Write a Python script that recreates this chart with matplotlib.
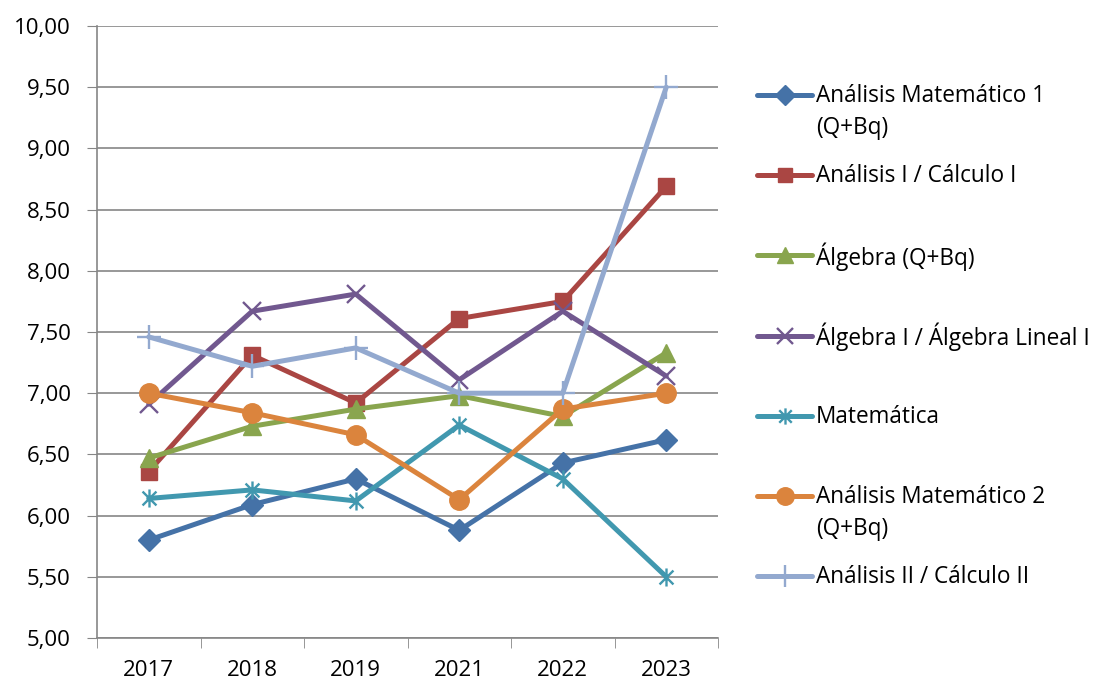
import matplotlib
matplotlib.use("Agg")
import matplotlib.pyplot as plt
from matplotlib.lines import Line2D
from matplotlib.path import Path
import numpy as np

plt.rcParams['font.family'] = ['Open Sans', 'DejaVu Sans']

anios = ["2017", "2018", "2019", "2021", "2022", "2023"]

am1 = [5.80, 6.09, 6.30, 5.88, 6.43, 6.62]
an1 = [6.36, 7.31, 6.92, 7.61, 7.75, 8.69]
alg = [6.47, 6.73, 6.87, 6.98, 6.81, 7.33]
alg1 = [6.91, 7.67, 7.81, 7.11, 7.67, 7.14]
mate = [6.14, 6.21, 6.12, 6.74, 6.30, 5.50]
am2 = [7.00, 6.84, 6.66, 6.13, 6.87, 7.00]
an2 = [7.46, 7.22, 7.37, 7.00, 7.00, 9.50]

nombres = ["Análisis Matemático 1\n(Q+Bq)", "Análisis I / Cálculo I", "Álgebra (Q+Bq)",
           "Álgebra I / Álgebra Lineal I", "Matemática", "Análisis Matemático 2\n(Q+Bq)",
           "Análisis II / Cálculo II"]

# marcador asterisco estilo excel
asterisco = Path([(-1, -1), (1, 1), (-1, 1), (1, -1), (0, -1.3), (0, 1.3)],
                 [Path.MOVETO, Path.LINETO, Path.MOVETO, Path.LINETO, Path.MOVETO, Path.LINETO])

estilos = [
    dict(color="#4572A7", marker="D", ms=11),
    dict(color="#AA4643", marker="s", ms=11),
    dict(color="#89A54E", marker="^", ms=13),
    dict(color="#71588F", marker="x", ms=13, mew=1.7),
    dict(color="#4198AF", marker=asterisco, ms=13, mew=1.7),
    dict(color="#DB843D", marker="o", ms=14),
    dict(color="#93A9CF", marker="+", ms=17, mew=1.7),
]
series = [am1, an1, alg, alg1, mate, am2, an2]

fig = plt.figure(figsize=(11.02, 6.82), dpi=100)
ax = fig.add_axes([97/1102, 1-638/682, 621/1102, 612/682])

x = np.arange(len(anios))
for vals, est in zip(series, estilos):
    ax.plot(x, vals, lw=3.6, solid_capstyle="round", solid_joinstyle="round", **est)

ax.set_xlim(-0.5, len(anios)-0.5)
ax.set_ylim(5, 10)
ax.set_yticks(np.arange(5, 10.01, 0.5))
ax.set_yticklabels([f"{v:.2f}".replace(".", ",") for v in np.arange(5, 10.01, 0.5)])
ax.set_xticks(x)
ax.set_xticklabels(anios)
ax.set_xticks(np.arange(-0.5, len(anios)), minor=True)
ax.tick_params(axis="x", which="major", length=0, pad=16, labelsize=16)
ax.tick_params(axis="x", which="minor", length=7, color="#868686", direction="out")
ax.tick_params(axis="y", length=7, color="#868686", pad=12, labelsize=16)
ax.grid(axis="y", color="#868686", lw=1.2)
ax.set_axisbelow(True)
for s in ["top", "right"]:
    ax.spines[s].set_visible(False)
for s in ["left", "bottom"]:
    ax.spines[s].set_color("#868686")
    ax.spines[s].set_linewidth(1.2)

# leyenda manual
for i, (nom, est) in enumerate(zip(nombres, estilos)):
    ypx = 95 + i*80.2
    yy = 1 - ypx/682
    fig.add_artist(Line2D([757/1102, 812/1102], [yy, yy], lw=3.6, transform=fig.transFigure,
                          color=est["color"], solid_capstyle="round"))
    fig.add_artist(Line2D([784.5/1102], [yy], transform=fig.transFigure, color=est["color"],
                          marker=est["marker"], ms=est["ms"]*0.9, mew=est.get("mew", 1), lw=0))
    for j, linea in enumerate(nom.split("\n")):
        fig.text(816/1102, 1 - (ypx + 1 + j*32)/682, linea, fontsize=16.3, va="center")

fig.savefig("out.png", dpi=100)
